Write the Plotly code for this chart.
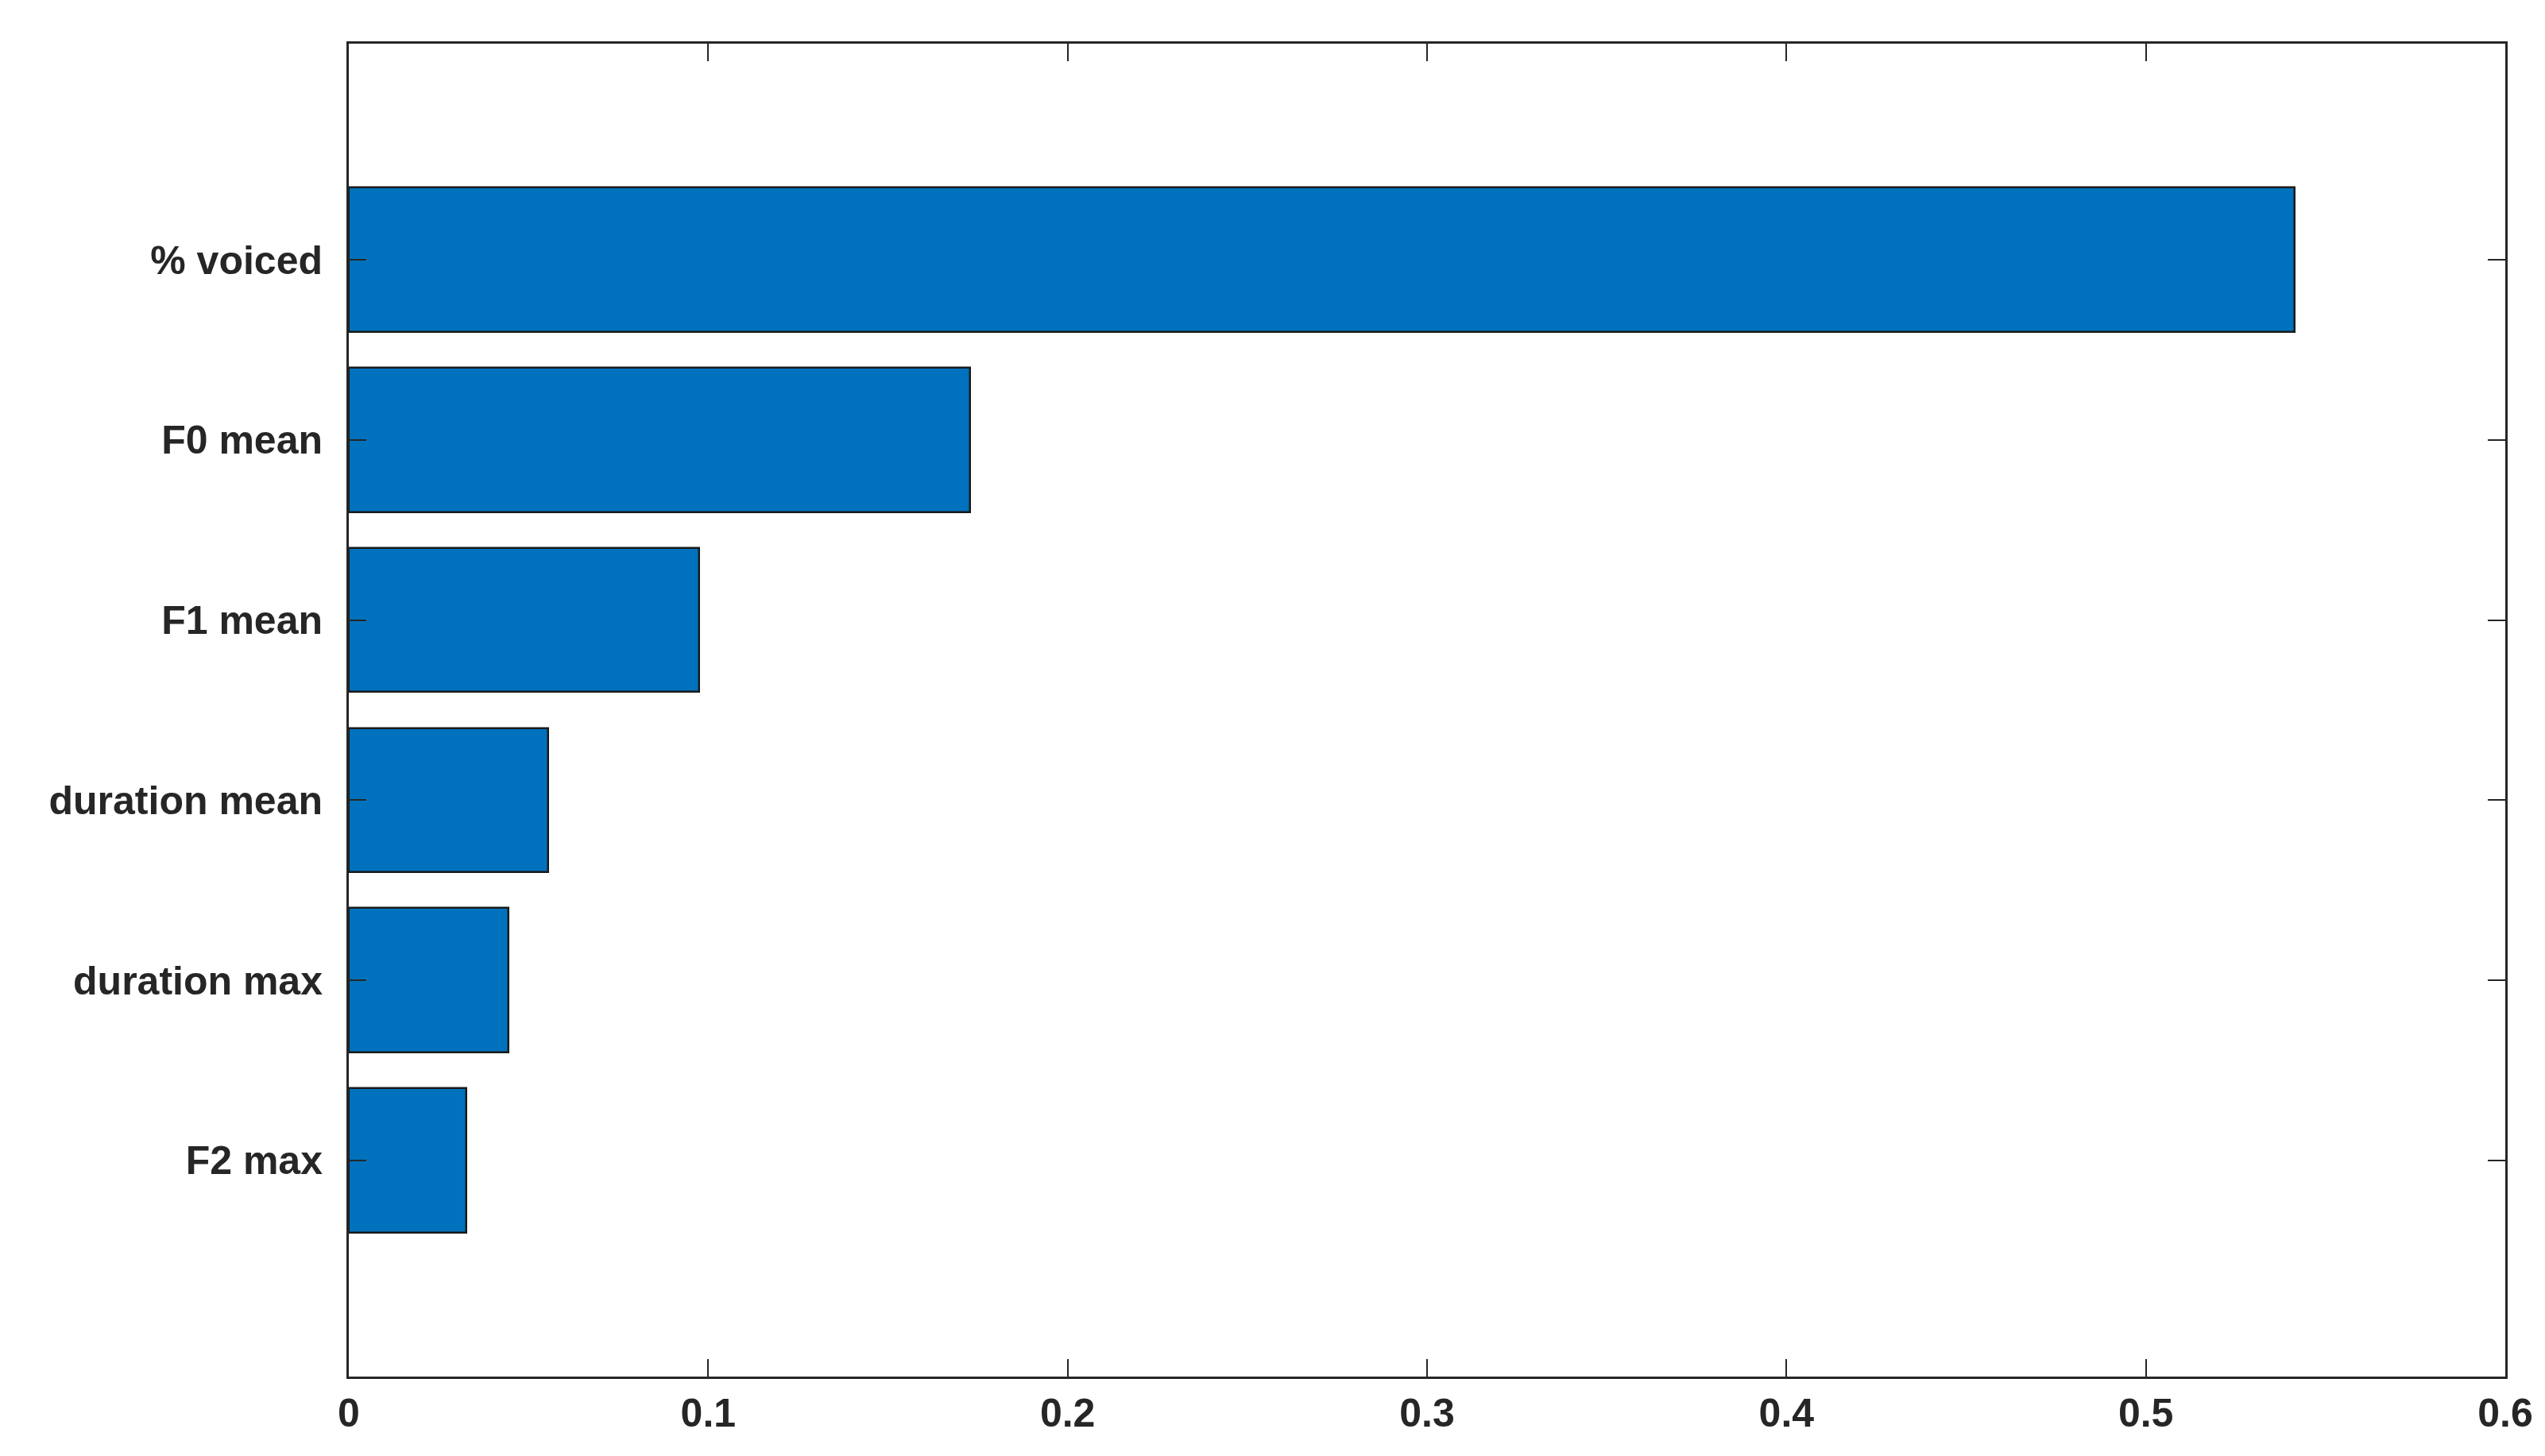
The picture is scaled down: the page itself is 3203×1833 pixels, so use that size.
import plotly.graph_objects as go

features = ["% voiced", "F0 mean", "F1 mean", "duration mean", "duration max", "F2 max"]
importance = [0.5415, 0.1729, 0.0976, 0.0554, 0.0445, 0.0327]
positions = [6, 5, 4, 3, 2, 1]
xticks = [0, 0.1, 0.2, 0.3, 0.4, 0.5, 0.6]

fig = go.Figure(go.Bar(
    x=importance, y=positions, orientation="h", width=0.8,
    marker=dict(color="#0072BD", line=dict(color="#1a1a1a", width=2.5)),
))
axfont = dict(family="Arial, Liberation Sans, sans-serif", size=50, color="#262626")
fig.update_layout(
    width=3203, height=1833, plot_bgcolor="white", paper_bgcolor="white",
    margin=dict(l=431, r=58, t=47, b=108), showlegend=False,
    font=axfont, bargap=0,
)
fig.update_xaxes(range=[0, 0.6], tickvals=xticks, ticktext=[f"{v:g}" for v in xticks],
                 ticks="inside", ticklen=22, tickwidth=2, tickcolor="#262626",
                 showline=True, linecolor="#262626", linewidth=3, mirror="ticks",
                 showgrid=False, zeroline=False, tickfont=dict(size=50, family="Arial, Liberation Sans", color="#262626"))
fig.update_yaxes(range=[-0.2, 7.2], tickvals=positions, ticktext=features,
                 ticks="inside", ticklen=22, tickwidth=2, tickcolor="#262626",
                 showline=True, linecolor="#262626", linewidth=3, mirror="ticks",
                 showgrid=False, zeroline=False, ticklabelstandoff=20,
                 tickfont=dict(size=50, family="Arial, Liberation Sans", color="#262626"))
fig.update_layout(font_weight="bold")
fig.update_xaxes(tickfont_weight="bold")
fig.update_yaxes(tickfont_weight="bold")
fig.write_html("out.html")
